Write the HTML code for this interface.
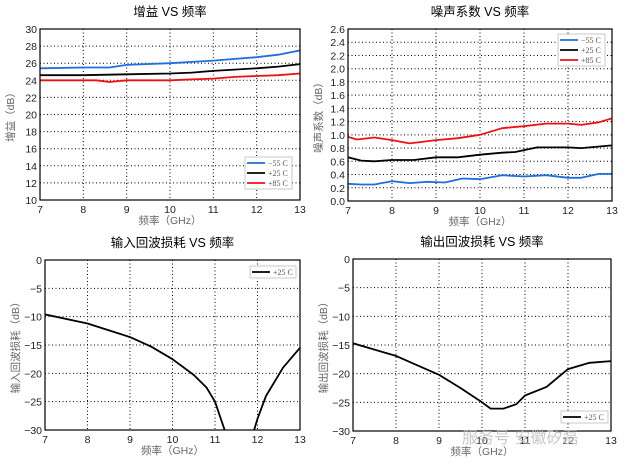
<!DOCTYPE html>
<html><head><meta charset="utf-8"><style>
html,body{margin:0;padding:0;background:#fff;}
svg{display:block;font-family:"Liberation Sans","Noto Sans CJK SC",sans-serif;}
</style></head><body>
<svg id="s" width="627" height="463" xmlns="http://www.w3.org/2000/svg"></svg>
<script>
const S=document.getElementById('s');let h='';
function plot(o){
 const {x0,y0,x1,y1,ymin,ymax,step,dec,title,ylab,series,leg}=o;
 const X=v=>x0+(v-7)/6*(x1-x0), Y=v=>y1-(v-ymin)/(ymax-ymin)*(y1-y0);
 h+=`<text x="${(x0+x1)/2}" y="${y0-13}" font-size="12.5" text-anchor="middle" fill="#000">${title}</text>`;
 for(let v=8;v<13;v++)h+=`<line x1="${X(v)}" y1="${y0}" x2="${X(v)}" y2="${y1}" stroke="#000" stroke-width="1" stroke-dasharray="1,2.5"/>`;
 for(let v=ymin+step;v<ymax-1e-9;v+=step)h+=`<line x1="${x0}" y1="${Y(v)}" x2="${x1}" y2="${Y(v)}" stroke="#000" stroke-width="1" stroke-dasharray="1,2.5"/>`;
 for(let v=ymin;v<=ymax+1e-9;v+=step)h+=`<text x="${x0-3}" y="${Y(v)+4}" font-size="10.5" text-anchor="end" fill="#222">${v.toFixed(dec).replace('-','−')}</text>`;
 for(let v=7;v<=13;v++)h+=`<text x="${X(v)}" y="${y1+13}" font-size="10.5" text-anchor="middle" fill="#222">${v}</text>`;
 h+=`<text x="${(x0+x1)/2}" y="${y1+24}" font-size="10.5" text-anchor="middle" fill="#666">频率（GHz）</text>`;
 h+=`<text transform="translate(${x0-26},${(y0+y1)/2}) rotate(-90)" font-size="10.5" text-anchor="middle" fill="#666">${ylab}</text>`;
 h+=`<defs><clipPath id="c${x0}${y0}"><rect x="${x0}" y="${y0}" width="${x1-x0}" height="${y1-y0}"/></clipPath></defs>`;
 series.forEach(s=>s.segs.forEach(seg=>{h+=`<polyline clip-path="url(#c${x0}${y0})" fill="none" stroke="${s.c}" stroke-width="1.8" stroke-linejoin="round" points="${seg.map(p=>X(p[0]).toFixed(1)+','+Y(p[1]).toFixed(1)).join(' ')}"/>`;}));
 const [lx,ly,lw]=leg;const n=series.length;
 h+=`<rect x="${lx}" y="${ly}" width="${lw}" height="${n*10+2}" fill="#fff" stroke="#bbb" stroke-width="0.8"/>`;
 series.forEach((s,i)=>{const yy=ly+6+i*10;h+=`<line x1="${lx+2}" y1="${yy}" x2="${lx+20}" y2="${yy}" stroke="${s.c}" stroke-width="1.8"/><text x="${lx+23}" y="${yy+3}" font-size="8" font-family="Liberation Serif,serif" fill="#555">${s.n}</text>`;});
 h+=`<rect x="${x0}" y="${y0}" width="${x1-x0}" height="${y1-y0}" fill="none" stroke="#000" stroke-width="1.2"/>`;
}
const B='#1f6fe0',K='#000',R='#f01010';
plot({x0:40,y0:29,x1:300,y1:200,ymin:10,ymax:30,step:2,dec:0,title:'增益 VS 频率',ylab:'增益（dB）',leg:[245,157,47],series:[
{c:B,n:'−55 C',segs:[[[7,25.4],[8,25.5],[8.6,25.5],[9,25.8],[10,26.0],[11,26.3],[12,26.7],[12.5,27.0],[13,27.5]]]},
{c:K,n:'+25 C',segs:[[[7,24.6],[8,24.6],[9,24.7],[10,24.8],[10.5,24.9],[11,25.1],[12,25.4],[12.5,25.6],[13,25.9]]]},
{c:R,n:'+85 C',segs:[[[7,24.0],[8,24.0],[8.3,24.0],[8.6,23.8],[9,24.0],[10,24.0],[10.5,24.1],[11,24.2],[11.5,24.4],[12,24.5],[12.5,24.6],[13,24.8]]]}]});
plot({x0:348,y0:29,x1:612,y1:201,ymin:0,ymax:2.6,step:0.2,dec:1,title:'噪声系数 VS 频率',ylab:'噪声系数（dB）',leg:[558,34,47],series:[
{c:B,n:'−55 C',segs:[[[7,0.26],[7.3,0.25],[7.6,0.25],[8,0.3],[8.4,0.27],[8.8,0.29],[9.2,0.28],[9.6,0.34],[10,0.33],[10.5,0.39],[11,0.37],[11.5,0.39],[12,0.35],[12.3,0.35],[12.7,0.41],[13,0.41]]]},
{c:K,n:'+25 C',segs:[[[7,0.66],[7.3,0.61],[7.6,0.6],[8,0.62],[8.5,0.62],[9,0.66],[9.5,0.66],[10,0.7],[10.5,0.73],[10.8,0.74],[11.3,0.81],[12,0.81],[12.3,0.8],[13,0.84]]]},
{c:R,n:'+85 C',segs:[[[7,0.97],[7.2,0.93],[7.6,0.96],[8,0.92],[8.4,0.87],[9,0.92],[9.5,0.95],[10,1.0],[10.5,1.1],[11,1.13],[11.5,1.17],[12,1.17],[12.3,1.15],[12.7,1.19],[13,1.25]]]}]});
plot({x0:45,y0:260,x1:300,y1:430,ymin:-30,ymax:0,step:5,dec:0,title:'输入回波损耗 VS 频率',ylab:'输入回波损耗（dB）',leg:[250,266,46],series:[
{c:K,n:'+25 C',segs:[[[7,-9.6],[8,-11.2],[9,-13.6],[9.5,-15.3],[10,-17.5],[10.5,-20.3],[10.8,-22.5],[11,-25],[11.25,-30.5]],[[11.9,-30.5],[12,-28],[12.2,-24],[12.6,-19],[13,-15.5]]]}]});
plot({x0:353,y0:259,x1:611,y1:431,ymin:-30,ymax:0,step:5,dec:0,title:'输出回波损耗 VS 频率',ylab:'输出回波损耗（dB）',leg:[561,411,47],series:[
{c:K,n:'+25 C',segs:[[[7,-14.7],[8,-16.9],[9,-20.2],[9.5,-22.5],[10,-25],[10.2,-26.1],[10.5,-26.1],[10.8,-25.3],[11,-23.8],[11.5,-22.3],[12,-19.2],[12.5,-18.1],[13,-17.8]]]}]});
h+=`<text x="462" y="443" font-size="16" fill="#bbb" opacity="0.8">服务号 安徽矽磊</text>`;
S.innerHTML=h;
</script>
</body></html>
